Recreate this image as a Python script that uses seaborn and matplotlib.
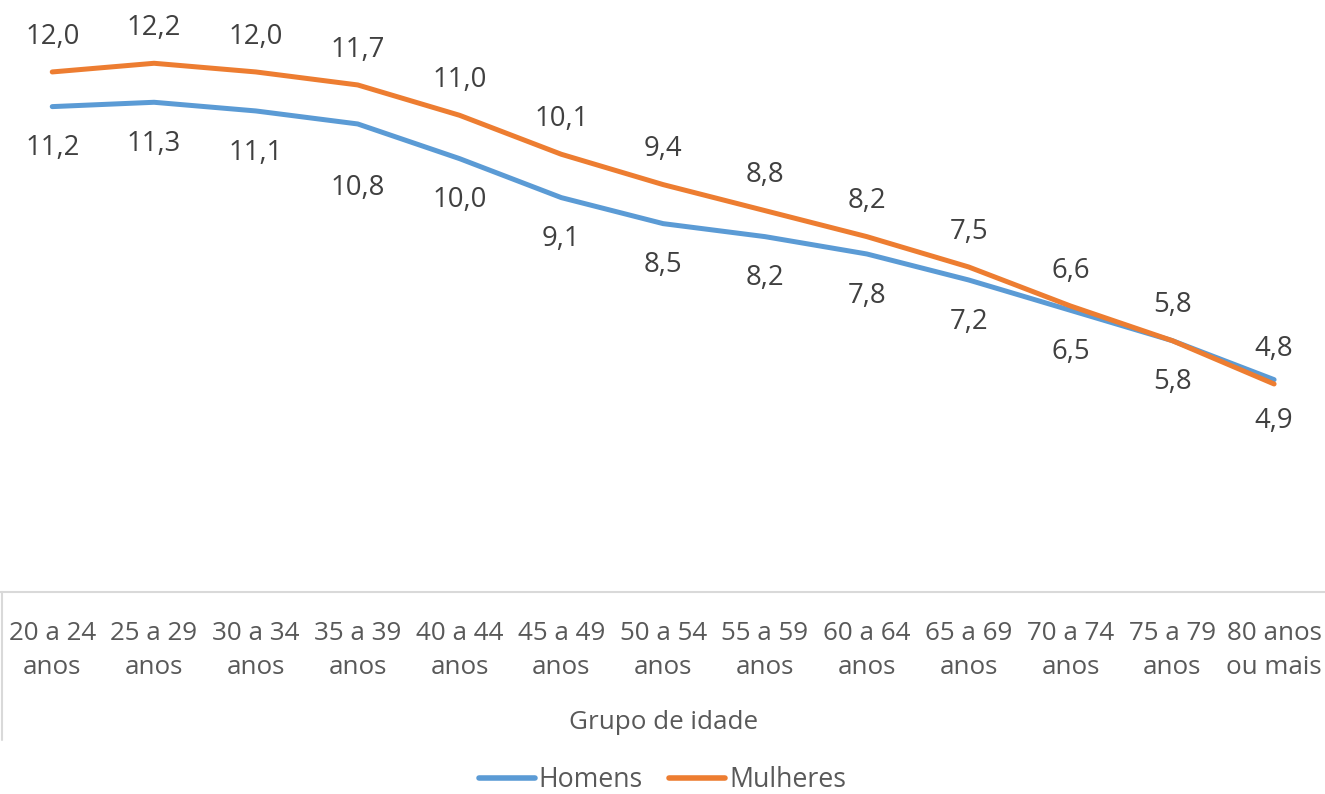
import pandas as pd
import seaborn as sns
import matplotlib.pyplot as plt

# data
grupos = ['20 a 24\nanos', '25 a 29\nanos', '30 a 34\nanos', '35 a 39\nanos',
          '40 a 44\nanos', '45 a 49\nanos', '50 a 54\nanos', '55 a 59\nanos',
          '60 a 64\nanos', '65 a 69\nanos', '70 a 74\nanos', '75 a 79\nanos',
          '80 anos\nou mais']
homens = [11.2, 11.3, 11.1, 10.8, 10.0, 9.1, 8.5, 8.2, 7.8, 7.2, 6.5, 5.8, 4.9]
mulheres = [12.0, 12.2, 12.0, 11.7, 11.0, 10.1, 9.4, 8.8, 8.2, 7.5, 6.6, 5.8, 4.8]

sns.set_theme(style='white')
plt.rcParams['font.family'] = ['Open Sans', 'DejaVu Sans']

df = pd.DataFrame({
    'pos': list(range(len(grupos))) * 2,
    'valor': homens + mulheres,
    'sexo': ['Homens'] * len(grupos) + ['Mulheres'] * len(grupos),
})

fig = plt.figure(figsize=(13.25, 7.94), dpi=100)
ax = fig.add_axes([0.001, 0.2544, 0.999, 0.7456])

sns.lineplot(data=df, x='pos', y='valor', hue='sexo',
             palette={'Homens': '#5B9BD5', 'Mulheres': '#ED7D31'},
             linewidth=3.6, ax=ax)

ax.set_xlim(-0.5, len(grupos) - 0.5)
ax.set_ylim(0, 13.66)
ax.set_yticks([])
ax.set_xticks(range(len(grupos)))
ax.set_xticklabels(grupos, fontsize=18.7, color='#595959', linespacing=1.45)
ax.tick_params(axis='x', length=0, pad=21)
ax.set_xlabel('Grupo de idade', fontsize=18.7, color='#595959', labelpad=22)
ax.set_ylabel('')

for s in ['top', 'right', 'left']:
    ax.spines[s].set_visible(False)
ax.spines['bottom'].set_color('#D9D9D9')
ax.spines['bottom'].set_linewidth(1.5)
# left border of the category area
ax.plot([0.0005, 0.0005], [0, -0.25], transform=ax.transAxes, clip_on=False,
        color='#D9D9D9', lw=1.5)

# data labels: women above, men below (one moved by hand like the original)
off_h = {3: -46}
for i, v in enumerate(homens):
    dy = off_h.get(i, -30)
    ax.annotate(f'{v:.1f}'.replace('.', ','), (i, v), xytext=(0, dy),
                textcoords='offset points', ha='center', va='center',
                fontsize=19.8, color='#404040')
for i, v in enumerate(mulheres):
    ax.annotate(f'{v:.1f}'.replace('.', ','), (i, v), xytext=(0, 25.5),
                textcoords='offset points', ha='center', va='center',
                fontsize=19.8, color='#404040')

leg = ax.legend(loc='center', bbox_to_anchor=(0.5, 0.0176), bbox_transform=fig.transFigure,
                ncol=2, frameon=False, fontsize=19.2, handlelength=2.1,
                handletextpad=0.15, columnspacing=1.0, labelcolor='#595959')
for h in leg.get_lines():
    h.set_linewidth(4)

fig.savefig('out.png', dpi=100)
